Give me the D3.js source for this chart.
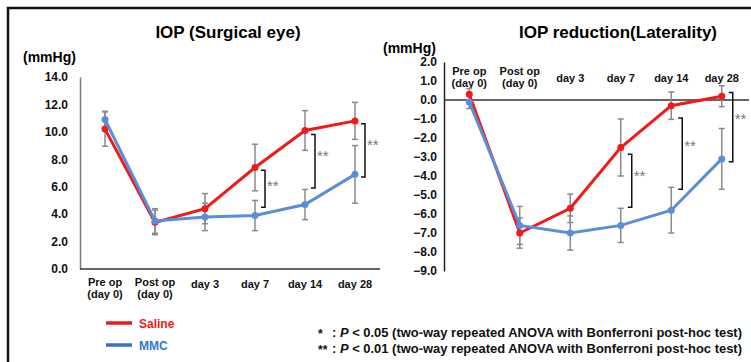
<!DOCTYPE html>
<html>
<head>
<meta charset="utf-8">
<script src="https://cdnjs.cloudflare.com/ajax/libs/d3/7.8.5/d3.min.js"></script>
<style>
  body { margin: 0; background: #fff; }
  text { font-family: "Liberation Sans", Arial, sans-serif; }
</style>
</head>
<body>
<div id="chart"></div>
<script>
(function() {
  var width = 751,
      height = 362;

  // categories (x axis), split in lines
  var catLabels = [["Pre op", "(day 0)"], ["Post op", "(day 0)"], ["day 3"], ["day 7"], ["day 14"], ["day 28"]];
  var categories = catLabels.map(function(d) { return d.join(" "); });

  // left panel: IOP of the surgical eye (mmHg), mean and error
  var salineIOP   = [10.2, 3.4, 4.4, 7.4, 10.1, 10.8];
  var salineIOPsd = [1.25, 0.9, 1.1, 1.7, 1.45, 1.35];
  var mmcIOP      = [10.9, 3.5, 3.8, 3.9, 4.7, 6.9];
  var mmcIOPsd    = [0.6, 0.9, 1.0, 1.1, 1.1, 2.1];
  var iopTicks    = [0, 2, 4, 6, 8, 10, 12, 14];
  var iopBrackets = [{cat: 3, from: 7.2, to: 4.5}, {cat: 4, from: 9.8, to: 5.9}, {cat: 5, from: 10.6, to: 6.7}];

  // right panel: IOP reduction (laterality)
  var salineRed   = [0.3, -7.0, -5.7, -2.5, -0.3, 0.2];
  var salineRedSd = [0.3, 0.8, 0.75, 1.5, 0.72, 0.55];
  var mmcRed      = [-0.1, -6.6, -7.0, -6.6, -5.8, -3.1];
  var mmcRedSd    = [0.35, 1.0, 0.9, 0.9, 1.2, 1.6];
  var redTicks    = [2, 1, 0, -1, -2, -3, -4, -5, -6, -7, -8, -9];
  var redBrackets = [{cat: 3, from: -2.85, to: -5.65}, {cat: 4, from: -0.95, to: -4.7}, {cat: 5, from: 0.4, to: -3.25}];

  var seriesNames = ["Saline", "MMC"];
  var lineColors  = ["#f01a1a", "#5b8ed6"];
  var textColors  = ["#f01a1a", "#2f78cc"];
  var footnotes = [["*", "P", " < 0.05 (two-way repeated ANOVA with Bonferroni post-hoc test)"],
                   ["**", "P", " < 0.01 (two-way repeated ANOVA with Bonferroni post-hoc test)"]];

  var svg = d3.select("#chart").append("svg")
      .attr("width", width)
      .attr("height", height);

  // frame around the picture
  svg.append("path")
      .attr("d", "M8," + height + "V8H" + width)
      .attr("fill", "none")
      .attr("stroke", "#111")
      .attr("stroke-width", 2.5);

  var drawPanel = function(opt) {
    var g = svg.append("g");
    var x = d3.scaleBand().domain(categories).range(opt.xRange);
    var y = d3.scaleLinear().domain(opt.yDomain).range(opt.yRange);
    var cx = function(i) { return x(categories[i]) + x.bandwidth() / 2; };

    // title and unit
    g.append("text")
        .attr("x", opt.titleX).attr("y", opt.titleY)
        .attr("text-anchor", "middle")
        .attr("font-size", 17).attr("font-weight", "bold")
        .text(opt.title);
    g.append("text")
        .attr("x", opt.unitX).attr("y", opt.unitY)
        .attr("font-size", 14).attr("font-weight", "bold")
        .text("(mmHg)");

    // y axis
    var yAxis = g.append("g")
        .attr("transform", "translate(" + opt.xRange[0] + ",0)")
        .call(d3.axisLeft(y).tickValues(opt.ticks).tickSize(0)
              .tickPadding(opt.tickPad).tickFormat(d3.format(".1f")));
    yAxis.select(".domain").attr("stroke", opt.yAxisColor).attr("stroke-width", 1.5);
    yAxis.selectAll("text")
        .attr("font-family", "Liberation Sans, Arial, sans-serif")
        .attr("font-size", 12).attr("font-weight", "bold").attr("fill", "#111");

    // x axis line (at the base, or at zero)
    g.append("line")
        .attr("x1", opt.xRange[0]).attr("x2", opt.xLineEnd)
        .attr("y1", y(opt.xLineAt)).attr("y2", y(opt.xLineAt))
        .attr("stroke", "#333").attr("stroke-width", 1.5);

    // category labels
    catLabels.forEach(function(lines, i) {
      var t = g.append("text")
          .attr("x", cx(i))
          .attr("text-anchor", "middle")
          .attr("font-size", 11).attr("font-weight", "bold").attr("fill", "#111");
      if (lines.length === 1) {
        t.attr("y", opt.catSingleY + 4).text(lines[0]);
      } else {
        lines.forEach(function(l, k) {
          t.append("tspan").attr("x", cx(i)).attr("y", opt.catY + 4 + k * 12).text(l);
        });
      }
    });

    // series: error bars, lines, dots
    opt.series.forEach(function(s, si) {
      var eb = g.append("g").attr("stroke", "#8a8a8a").attr("stroke-width", 1.5);
      s.values.forEach(function(v, i) {
        var x0 = cx(i), y1 = y(v + s.err[i]), y2 = y(v - s.err[i]);
        eb.append("line").attr("x1", x0).attr("x2", x0).attr("y1", y1).attr("y2", y2);
        eb.append("line").attr("x1", x0 - 3).attr("x2", x0 + 3).attr("y1", y1).attr("y2", y1);
        eb.append("line").attr("x1", x0 - 3).attr("x2", x0 + 3).attr("y1", y2).attr("y2", y2);
      });
    });
    opt.series.forEach(function(s, si) {
      var line = d3.line()
          .x(function(d, i) { return cx(i); })
          .y(function(d) { return y(d); });
      g.append("path")
          .datum(s.values)
          .attr("d", line)
          .attr("fill", "none")
          .attr("stroke", lineColors[si])
          .attr("stroke-width", 3);
      g.selectAll(null).data(s.values).enter()
        .append("circle")
          .attr("cx", function(d, i) { return cx(i); })
          .attr("cy", function(d) { return y(d); })
          .attr("r", 3.5)
          .attr("fill", lineColors[si]);
    });

    // significance brackets
    opt.brackets.forEach(function(b) {
      var bx = cx(b.cat) + opt.bracketDx, t = y(b.from), btm = y(b.to);
      g.append("path")
          .attr("d", "M" + (bx - 4) + "," + t + "H" + bx + "V" + btm + "H" + (bx - 4))
          .attr("fill", "none").attr("stroke", "#111").attr("stroke-width", 1.5);
      g.append("text")
          .attr("x", bx + 2).attr("y", t + (btm - t) * 0.33 + 9)
          .attr("font-size", 15).attr("fill", "#777")
          .text("**");
    });
  };

  drawPanel({
    title: "IOP (Surgical eye)", titleX: 228, titleY: 38,
    unitX: 23, unitY: 62,
    xRange: [80, 380], yDomain: [0, 14], yRange: [269, 77],
    ticks: iopTicks, tickPad: 12, yAxisColor: "#777",
    xLineAt: 0, xLineEnd: 380,
    catY: 282, catSingleY: 284,
    series: [{values: salineIOP, err: salineIOPsd}, {values: mmcIOP, err: mmcIOPsd}],
    brackets: iopBrackets, bracketDx: 10
  });

  drawPanel({
    title: "IOP reduction(Laterality)", titleX: 618, titleY: 38,
    unitX: 383, unitY: 53,
    xRange: [444, 747], yDomain: [-9, 2], yRange: [271, 62],
    ticks: redTicks, tickPad: 7, yAxisColor: "#222",
    xLineAt: 0, xLineEnd: 749,
    catY: 71, catSingleY: 77.5,
    series: [{values: salineRed, err: salineRedSd}, {values: mmcRed, err: mmcRedSd}],
    brackets: redBrackets, bracketDx: 11
  });

  // legend
  seriesNames.forEach(function(name, i) {
    var ly = 323 + i * 22;
    svg.append("line")
        .attr("x1", 106).attr("x2", 132).attr("y1", ly).attr("y2", ly)
        .attr("stroke", i === 0 ? lineColors[0] : "#3a72c0").attr("stroke-width", 3.5);
    svg.append("text")
        .attr("x", 139).attr("y", ly + 4.5)
        .attr("font-size", 12).attr("font-weight", "bold")
        .attr("fill", textColors[i])
        .text(name);
  });

  // footnotes
  footnotes.forEach(function(f, i) {
    var fy = 332 + i * 16 + 4.5;
    svg.append("text")
        .attr("x", 318).attr("y", fy + 1)
        .attr("font-size", 12).attr("font-weight", "bold").attr("fill", "#111")
        .text(f[0]);
    var t = svg.append("text")
        .attr("x", 332).attr("y", fy)
        .attr("font-size", 12).attr("font-weight", "bold").attr("fill", "#111")
        .attr("textLength", 410).attr("lengthAdjust", "spacingAndGlyphs");
    t.append("tspan").text(": ");
    t.append("tspan").attr("font-style", "italic").text(f[1]);
    t.append("tspan").text(f[2]);
  });
})();
</script>
</body>
</html>
